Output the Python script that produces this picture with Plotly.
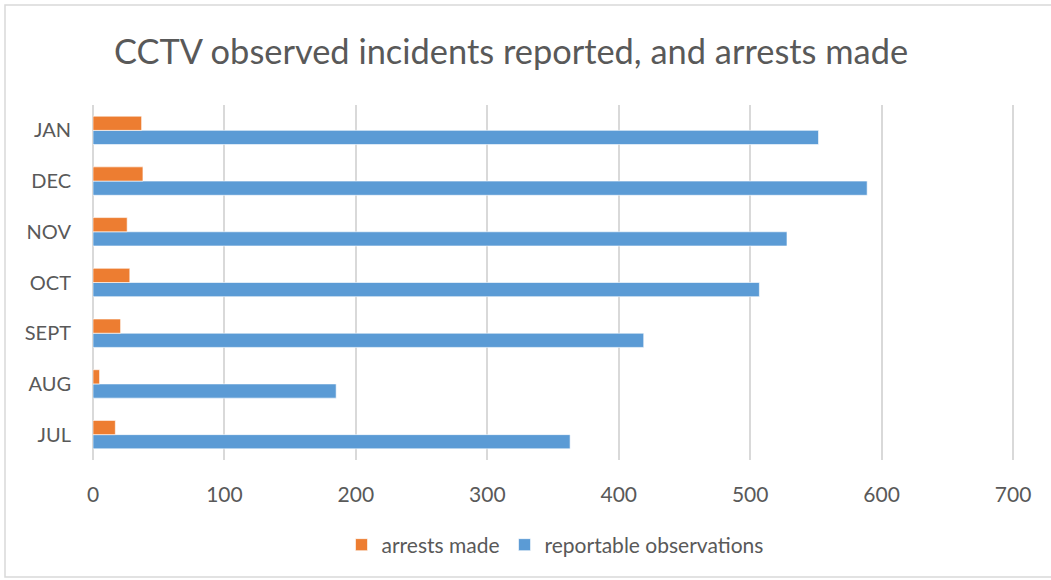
import plotly.graph_objects as go

months = ["JUL", "AUG", "SEPT", "OCT", "NOV", "DEC", "JAN"]
arrests = [17, 5, 21, 28, 26, 38, 37]
observations = [363, 185, 419, 507, 528, 589, 552]
x_ticks = [0, 100, 200, 300, 400, 500, 600, 700]

W, H = 1051, 580
ml, mr, mt, mb = 93, 34, 105, 120
pw, ph = W - ml - mr, H - mt - mb

fig = go.Figure()
fig.add_trace(go.Bar(
    y=months, x=observations, orientation="h", name="reportable observations",
    marker=dict(color="#5B9BD5", line=dict(color="rgba(255,255,255,0.6)", width=1)),
    legendrank=2,
))
fig.add_trace(go.Bar(
    y=months, x=arrests, orientation="h", name="arrests made",
    marker=dict(color="#ED7D31", line=dict(color="rgba(255,255,255,0.6)", width=1)),
    legendrank=1,
))

font_family = "Lato, Open Sans, sans-serif"
fig.update_layout(
    width=W, height=H,
    margin=dict(l=ml, r=mr, t=mt, b=mb),
    paper_bgcolor="white", plot_bgcolor="white",
    barmode="group", bargap=0.44, bargroupgap=0,
    font=dict(family=font_family, color="#595959", size=20),
    title=dict(text="CCTV observed incidents reported, and arrests made",
               x=114 / W, xanchor="left", y=1 - 52 / H, yanchor="middle",
               font=dict(size=34.4, color="#595959", family=font_family)),
    xaxis=dict(range=[0, 703], tickvals=x_ticks, showgrid=True,
               gridcolor="#D9D9D9", gridwidth=1.5, zeroline=True,
               zerolinecolor="#D9D9D9", zerolinewidth=1.5, showline=False,
               ticks="", ticklabelstandoff=20, tickfont=dict(size=21, color="#595959"),
               fixedrange=True),
    yaxis=dict(showgrid=False, zeroline=False, showline=False, ticks="",
               ticklabelstandoff=21, tickfont=dict(size=20, color="#595959"),
               fixedrange=True),
    legend=dict(orientation="h", x=0.5, xanchor="center",
                y=(0 - (545 - (mt + ph))) / ph, yanchor="middle",
                font=dict(size=21, color="#595959"), itemwidth=30,
                traceorder="normal"),
    showlegend=True,
)

fig.add_shape(type="rect", xref="paper", yref="paper",
              x0=(5 - ml) / pw, x1=(W + 3 - ml) / pw,
              y0=-(H - 3 - mt - ph) / ph, y1=(mt - 5) / ph + 1,
              line=dict(color="#D9D9D9", width=1.5), fillcolor="rgba(0,0,0,0)",
              layer="below")

fig.write_html("out.html")
